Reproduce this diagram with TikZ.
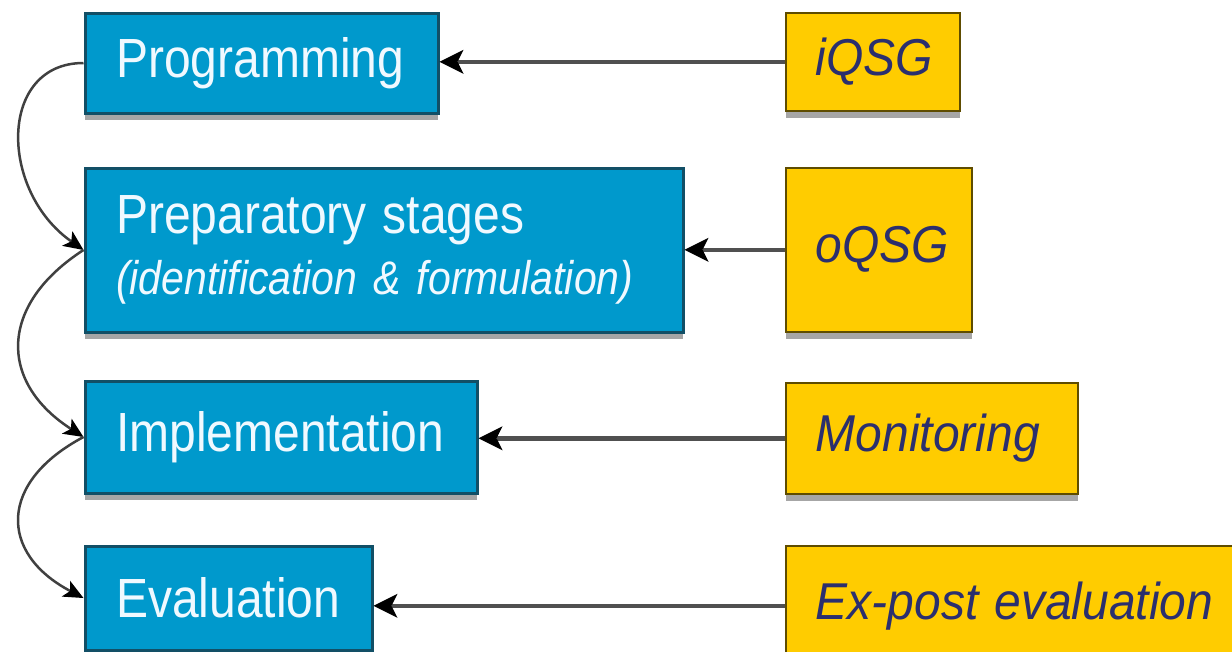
\documentclass[tikz,border=0pt]{standalone}
\usepackage{fontspec}
\setmainfont{Liberation Sans}
\usetikzlibrary{arrows.meta,shadows,calc}
\definecolor{bluefill}{HTML}{0099CC}
\definecolor{blueedge}{HTML}{124F66}
\definecolor{yellowfill}{HTML}{FFCC00}
\definecolor{yellowedge}{HTML}{5E4C00}
\definecolor{navytext}{HTML}{2B2F6E}
\definecolor{bluetext}{HTML}{F0F9FF}
\definecolor{linegray}{HTML}{505050}
\newcommand{\vsb}[1]{\scalebox{1}[1.15]{#1}}
\newcommand{\vsy}[1]{\scalebox{1}[1.08]{#1}}
\begin{document}
\begin{tikzpicture}[x=1pt,y=-1pt,
  stagebox/.style={draw=blueedge, line width=3pt, fill=bluefill, text=bluetext,
    anchor=north west, inner xsep=31pt, inner ysep=0pt, align=left,
    font=\fontsize{48}{63}\selectfont,
    drop shadow={shadow xshift=0pt,shadow yshift=-7pt,fill=black,opacity=.35}},
  toolbox/.style={draw=yellowedge, line width=2.5pt, fill=yellowfill, text=navytext,
    anchor=north west, inner xsep=30pt, inner ysep=0pt, align=left,
    font=\fontsize{48}{58}\selectfont\itshape,
    drop shadow={shadow xshift=0pt,shadow yshift=-7pt,fill=black,opacity=.35}},
  feed/.style={draw=linegray, line width=4.5pt,
    -{Stealth[length=24pt,width=24pt,inset=6pt,fill=black,color=black,line width=0pt]}},
  cyclearrow/.style={draw=black!75, line width=2.5pt,
    -{Stealth[length=20pt,width=18pt,inset=5pt,fill=black,color=black,line width=0pt]}}
]
\useasboundingbox (0,0) rectangle (1232,651);
\clip (0,0) rectangle (1232,651);

% stage boxes
\node[stagebox, minimum width=353pt, minimum height=100pt, text width=291pt] (prog) at (83.5,11.5) {\vsb{Programming}};
\node[stagebox, minimum width=598pt, minimum height=164pt, text width=536pt] (prep) at (83.5,166.5)
  {\vsb{Preparatory stages}\\[-2pt] {\fontsize{41}{50}\selectfont\itshape\vsb{(identification \& formulation)}}};
\node[stagebox, minimum width=392pt, minimum height=112pt, text width=330pt] (impl) at (83.5,379.5) {\vsb{Implementation}};
\node[stagebox, minimum width=287pt, minimum height=104pt, text width=225pt] (eval) at (83.5,544.5) {\vsb{Evaluation}};

% tool boxes
\node[toolbox, minimum width=174pt, minimum height=98pt, text width=114pt] (iqsg) at (784.5,11.5) {\vsy{iQSG}};
\node[toolbox, minimum width=186pt, minimum height=164pt, text width=126pt] (oqsg) at (784.5,166.5) {\vsy{oQSG}};
\node[toolbox, minimum width=292pt, minimum height=111pt, text width=232pt] (mon) at (784.5,381.5) {\vsy{Monitoring}};
\node[toolbox, minimum width=480pt, minimum height=120pt, text width=420pt] (expost) at (784.5,544.5) {\vsy{Ex-post evaluation}};

% feeding arrows
\draw[feed] (iqsg.west) -- (iqsg.west -| prog.east);
\draw[feed] (oqsg.west) -- (oqsg.west -| prep.east);
\draw[feed] (mon.west) -- (mon.west -| impl.east);
\draw[feed] (expost.west) -- (expost.west -| eval.east);

% cycle arrows
\draw[cyclearrow] (prog.west) .. controls ($(prog.west)+(-85,0)$) and ($(prep.west)+(-85,-60)$) .. (prep.west);
\draw[cyclearrow] (prep.west) .. controls ($(prep.west)+(-85,55)$) and ($(impl.west)+(-85,-55)$) .. (impl.west);
\draw[cyclearrow] (impl.west) .. controls ($(impl.west)+(-85,45)$) and ($(eval.west)+(-85,-45)$) .. (eval.west);
\end{tikzpicture}
\end{document}
